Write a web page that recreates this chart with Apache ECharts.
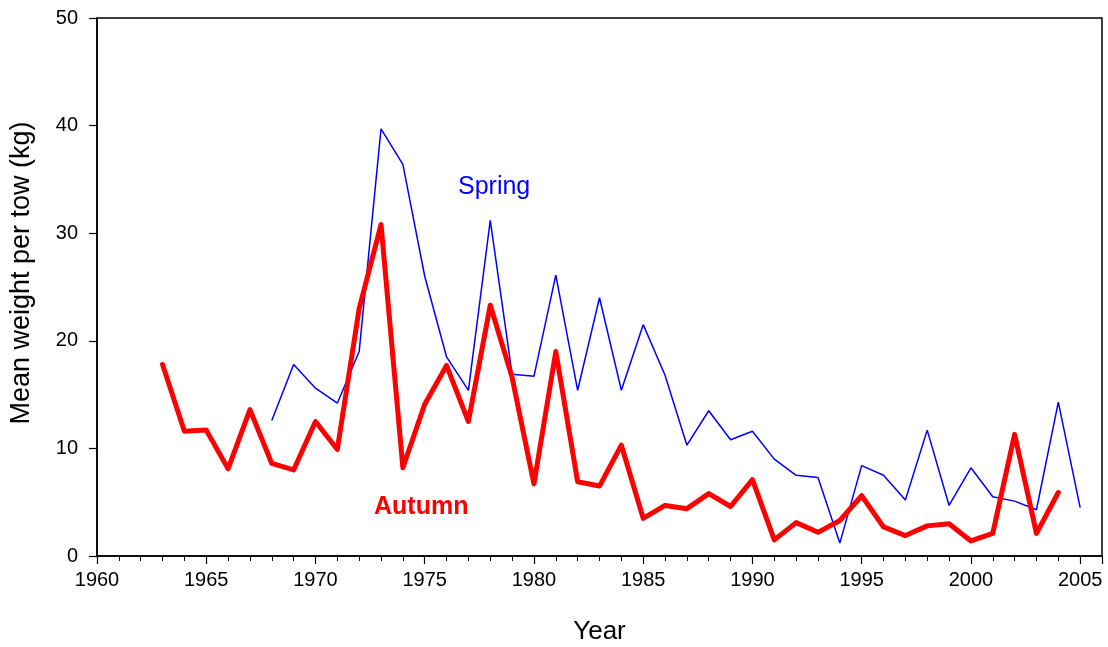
<!DOCTYPE html>
<html>
<head>
<meta charset="utf-8">
<script src="https://cdn.jsdelivr.net/npm/echarts@6/dist/echarts.min.js"></script>
<style>
  html, body { margin: 0; padding: 0; background: #fff; }
  #chart { width: 1108px; height: 647px; }
</style>
</head>
<body>
<div id="chart"></div>
<script>
// 数据：年份 + 两个季节的平均每拖网重量
var autumnYears = [1963,1964,1965,1966,1967,1968,1969,1970,1971,1972,1973,1974,1975,1976,1977,1978,1979,1980,1981,1982,1983,1984,1985,1986,1987,1988,1989,1990,1991,1992,1993,1994,1995,1996,1997,1998,1999,2000,2001,2002,2003,2004];
var autumnValues = [17.8,11.6,11.7,8.1,13.6,8.6,8.0,12.5,9.9,23.0,30.8,8.2,14.1,17.7,12.5,23.3,16.6,6.7,19.0,6.9,6.5,10.3,3.5,4.7,4.4,5.8,4.6,7.1,1.5,3.1,2.2,3.3,5.6,2.7,1.9,2.8,3.0,1.4,2.1,11.3,2.1,5.9];

var springYears = [1968,1969,1970,1971,1972,1973,1974,1975,1976,1977,1978,1979,1980,1981,1982,1983,1984,1985,1986,1987,1988,1989,1990,1991,1992,1993,1994,1995,1996,1997,1998,1999,2000,2001,2002,2003,2004,2005];
var springValues = [12.6,17.8,15.6,14.2,19.0,39.7,36.4,26.0,18.5,15.4,31.2,16.9,16.7,26.1,15.4,24.0,15.4,21.5,16.8,10.3,13.5,10.8,11.6,9.0,7.5,7.3,1.2,8.4,7.5,5.2,11.7,4.7,8.2,5.5,5.1,4.3,14.3,4.5];

function pairs(xs, ys) {
  return xs.map(function (x, i) { return [x, ys[i]]; });
}

var myChart = echarts.init(document.getElementById('chart'));
var fontFam = 'Liberation Sans, Arial, sans-serif';

var option = {
  animation: false,
  backgroundColor: '#fff',
  grid: {
    left: 97, right: 6, top: 18, bottom: 91,
    outerBoundsMode: 'none',
    containLabel: false,
    show: true, borderColor: '#000', borderWidth: 1.5
  },
  xAxis: {
    type: 'value',
    min: 1960, max: 2006, interval: 5,
    name: 'Year',
    nameLocation: 'middle',
    nameGap: 63,
    nameTextStyle: { fontSize: 26, color: '#000', fontFamily: fontFam },
    axisLine: { lineStyle: { color: '#000', width: 1.5 } },
    axisTick: { length: 8, lineStyle: { color: '#000', width: 1.2 } },
    minorTick: { show: true, splitNumber: 5, length: 5, lineStyle: { color: '#000', width: 1 } },
    splitLine: { show: false },
    axisLabel: {
      fontSize: 20, color: '#000', fontFamily: fontFam, margin: 14,
      formatter: function (v) { return v === 2006 ? '' : String(v); }
    }
  },
  yAxis: {
    type: 'value',
    min: 0, max: 50, interval: 10,
    name: 'Mean weight per tow (kg)',
    nameLocation: 'middle',
    nameGap: 62,
    nameTextStyle: { fontSize: 27, color: '#000', fontFamily: fontFam, padding: [0, 0, 0, 28] },
    axisLine: { show: true, lineStyle: { color: '#000', width: 1.5 } },
    axisTick: { show: true, length: 8, lineStyle: { color: '#000', width: 1.2 } },
    splitLine: { show: false },
    axisLabel: { fontSize: 20, color: '#000', fontFamily: fontFam, margin: 19 }
  },
  series: [
    {
      name: 'Spring',
      type: 'line',
      data: pairs(springYears, springValues),
      showSymbol: false,
      lineStyle: { color: '#0000ff', width: 1.5 },
      itemStyle: { color: '#0000ff' },
      z: 2
    },
    {
      name: 'Autumn',
      type: 'line',
      data: pairs(autumnYears, autumnValues),
      showSymbol: false,
      lineStyle: { color: '#ff0000', width: 5, join: 'round', cap: 'round' },
      itemStyle: { color: '#ff0000' },
      z: 3
    }
  ],
  graphic: [
    {
      type: 'text', left: 458, top: 175,
      style: { text: 'Spring', fill: '#0000ff', font: '25px ' + fontFam }
    },
    {
      type: 'text', left: 374, top: 495,
      style: { text: 'Autumn', fill: '#ff0000', font: 'bold 25px ' + fontFam }
    }
  ]
};

myChart.setOption(option);
</script>
</body>
</html>
